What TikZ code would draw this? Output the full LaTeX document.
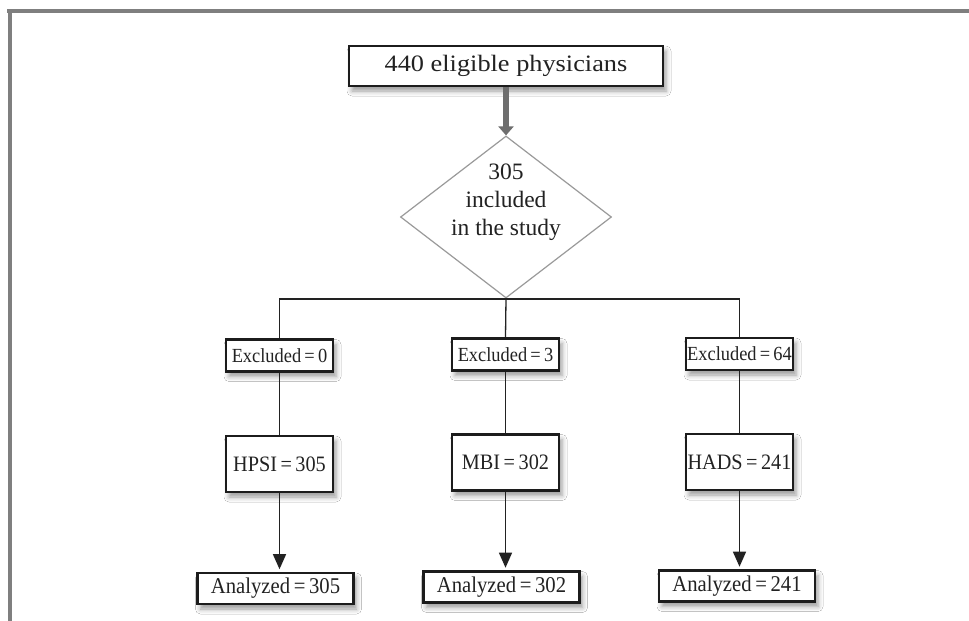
\documentclass[tikz,border=0pt]{standalone}
\usepackage{fontspec}
\setmainfont{Liberation Serif}
\newfontfamily\boxfont[FakeStretch=0.92, WordSpace=0.7]{Liberation Serif}
\newfontfamily\topfont[FakeStretch=1.12]{Liberation Serif}
\usetikzlibrary{shapes.geometric,arrows.meta,shadows.blur}
\definecolor{framegray}{HTML}{7F7F7F}
\definecolor{boxline}{HTML}{1C1C1C}
\definecolor{diagray}{HTML}{9A9A9A}
\definecolor{arrgray}{HTML}{6E6E6E}
\definecolor{txt}{HTML}{222222}
\tikzset{
  frame/.style={draw=framegray, line width=4pt},
  softshadow/.style={blur shadow={shadow xshift=3pt, shadow yshift=-5pt, shadow blur radius=5pt, shadow opacity=40}},
  topbox/.style={draw=boxline, line width=2.6pt, fill=white, softshadow, minimum width=314pt, minimum height=40pt, inner sep=0pt, text=txt, font=\topfont\fontsize{23.5}{26}\selectfont},
  exbox/.style={draw=boxline, line width=2.6pt, fill=white, softshadow, minimum width=107pt, minimum height=32pt, inner sep=0pt, text=txt, font=\boxfont\fontsize{20}{22}\selectfont},
  scbox/.style={draw=boxline, line width=2.8pt, fill=white, softshadow, minimum width=107pt, minimum height=56pt, inner sep=0pt, text=txt, font=\boxfont\fontsize{22}{24}\selectfont},
  anbox/.style={draw=boxline, line width=2.6pt, fill=white, softshadow, minimum width=156pt, minimum height=31pt, inner sep=0pt, text=txt, font=\boxfont\fontsize{22.5}{24}\selectfont},
  diabox/.style={diamond, draw=diagray, line width=1.2pt, fill=white, minimum width=211pt, minimum height=162pt, inner sep=0pt},
  diatext/.style={align=center, text=txt, inner sep=0pt, font=\fontsize{23.5}{28}\selectfont},
  link/.style={draw=txt, line width=1.3pt},
  flow/.style={link, -{Triangle[width=13pt,length=15pt]}, shorten >=2.5pt},
  bigflow/.style={draw=arrgray, line width=6pt, -{Triangle[width=15pt,length=9pt]}},
}
\begin{document}
\begin{tikzpicture}[x=1pt,y=-1pt]
\useasboundingbox (0,0) rectangle (969,621);
\fill[white] (0,0) rectangle (969,621);
% frame
\draw[frame] (7,11) -- (969,11);
\draw[frame] (9.5,9) -- (9.5,621);

\node[topbox] (elig) at (506,66) {440 eligible physicians};
\node[diabox] (incl) at (506,217) {};
\node[diatext] (incltxt) at (506,202) {305\\included\\in the study};

\node[exbox] (ex1) at (279.5,355.5) {Excluded = 0};
\node[exbox] (ex2) at (505.5,354.5) {Excluded = 3};
\node[exbox] (ex3) at (739.5,354) {Excluded = 64};

\node[scbox] (sc1) at (279.5,464) {HPSI = 305};
\node[scbox] (sc2) at (505.5,462.5) {MBI = 302};
\node[scbox] (sc3) at (739.5,462) {HADS = 241};

\node[anbox] (an1) at (275.5,588.5) {Analyzed = 305};
\node[anbox] (an2) at (501.5,587) {Analyzed = 302};
\node[anbox] (an3) at (737,586) {Analyzed = 241};

\draw[bigflow] (elig.south) -- (incl.north);

\coordinate (bl) at (279.5,299);
\coordinate (br) at (739.5,299);
\draw[link] (ex1.north) -- (bl) -- (br) -- (ex3.north);
\draw[link] (incl.south) -- (ex2.north);

\draw[link] (ex1.south) -- (sc1.north);
\draw[link] (ex2.south) -- (sc2.north);
\draw[link] (ex3.south) -- (sc3.north);

\draw[flow] (sc1.south) -- (sc1.south |- an1.north);
\draw[flow] (sc2.south) -- (sc2.south |- an2.north);
\draw[flow] (sc3.south) -- (sc3.south |- an3.north);
\end{tikzpicture}
\end{document}
